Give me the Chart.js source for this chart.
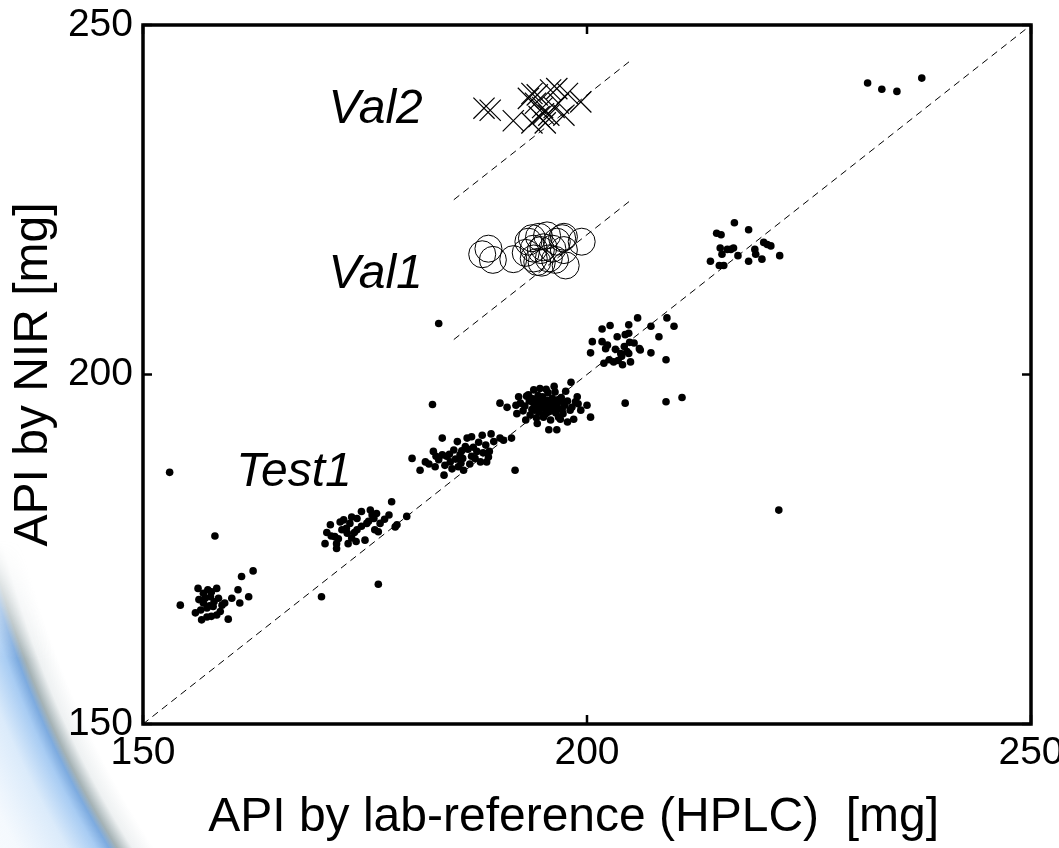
<!DOCTYPE html>
<html lang="en">
<head>
  <meta charset="UTF-8" />
  <title>API by NIR vs HPLC</title>
  <script src="https://cdn.jsdelivr.net/npm/chart.js"></script>
  <style>
    body { margin: 0; background: #fff; width: 1059px; height: 848px; overflow: hidden; position: relative; }
    #swoosh {
      position: absolute; left: 0; top: 540px; width: 230px; height: 308px;
      background: radial-gradient(circle at 1000px -240px,
        rgba(255,255,255,0) 0px,
        rgba(255,255,255,0) 1008px,
        rgba(170,185,190,0.2) 1026px,
        rgba(90,115,120,0.55) 1039px,
        rgba(70,135,210,0.7) 1046px,
        rgba(110,170,235,0.6) 1057px,
        rgba(175,210,245,0.45) 1082px,
        rgba(220,235,250,0.3) 1125px,
        rgba(255,255,255,0) 1220px);
      -webkit-mask-image: linear-gradient(to bottom, transparent 0px, #000 120px);
    }
    canvas { position: absolute; left: 0; top: 0; }
  </style>
</head>
<body>
  <div id="swoosh"></div>
  <canvas id="chart" width="1059" height="848"></canvas>

  <script>
    // Test1 calibration/test set (black dots)
    const testX = [
      154.2, 156.2, 157.3, 158.3, 156.8, 155.9, 156.6, 157.7, 158.7, 159.6, 160.0, 160.7, 161.1, 162.4, 160.9, 161.9,
      157.6, 157.9, 157.2, 158.9, 159.2, 158.3, 156.8, 157.7, 156.3, 157.0, 157.5, 158.0, 156.5, 158.5, 157.2,
      158.1, 153.0,
      170.5, 170.7, 171.1, 171.8, 171.8, 171.6, 172.4, 172.6, 173.1, 173.5, 173.3, 174.1, 174.6, 175.2, 175.6, 176.0,
      176.3, 176.7, 177.7, 176.5, 175.0, 174.1, 173.0, 178.0, 178.6, 178.4, 179.7, 172.0, 172.9, 173.8, 174.6, 175.4,
      176.1, 177.2, 174.0, 172.2, 173.5, 175.8, 171.2,
      170.1, 176.5,
      180.3, 181.2, 181.8, 182.7, 182.9, 183.7, 183.7, 183.9, 184.6, 185.0, 185.4, 185.5, 186.1, 186.3, 186.5, 187.0,
      187.0, 187.6, 188.2, 188.6, 188.0, 188.7, 189.5, 190.2, 191.5, 185.7, 184.2, 183.3, 184.0, 185.2, 186.0, 186.8,
      187.4, 188.3, 189.0, 184.8, 186.6, 187.8, 185.8, 183.0, 182.2, 189.2, 190.6, 184.5, 185.9, 187.2, 188.9,
      182.6, 191.9, 183.3,
      190.2, 191.0, 192.3, 192.5, 192.1, 193.1, 193.4, 194.0, 194.4, 195.1, 195.7, 196.3, 196.6, 196.8, 197.6, 197.8,
      198.1, 198.7, 199.3, 200.0, 200.4, 198.9, 193.0, 193.5, 193.8, 194.0, 194.2, 194.5, 194.6, 194.8, 195.0, 195.2,
      195.3, 195.5, 195.6, 195.8, 196.0, 196.1, 196.3, 196.5, 196.7, 196.9, 197.1, 197.3, 197.5, 193.6, 194.3, 195.9,
      197.0, 193.2, 194.7, 195.4, 196.4, 197.8, 198.3, 192.8, 193.9, 195.0, 196.2, 197.2, 198.5, 199.0, 192.0, 194.1,
      195.7, 196.8, 194.4, 195.3, 196.0, 195.6, 194.9, 195.1, 195.4, 195.9, 196.6, 194.2, 193.7, 197.4,
      200.6, 200.4, 201.7, 201.7, 202.1, 202.6, 202.3, 201.9, 202.5, 203.0, 203.4, 203.8, 204.0, 204.2, 204.3, 204.7,
      204.7, 204.9, 204.7, 205.3, 205.7, 205.9, 206.0, 207.2, 207.2, 208.1, 208.9, 209.0, 209.8, 203.2, 203.9, 204.5,
      203.5, 204.8, 198.2,
      204.3, 208.9, 210.7,
      213.9, 214.6, 215.1, 215.0, 215.2, 214.9, 215.4, 215.8, 216.5, 216.6, 217.0, 218.2, 218.2, 218.9, 219.0, 219.7,
      219.9, 220.3, 220.7, 221.7, 216.2,
      231.6, 233.2, 234.9, 237.7,
      221.6
    ];
    const testY = [
      167.0, 169.4, 169.2, 169.4, 167.3, 165.9, 164.9, 165.4, 166.1, 165.0, 168.0, 169.2, 171.1, 171.9, 167.3, 168.2,
      168.2, 166.8, 166.6, 167.0, 167.3, 165.6, 168.7, 168.9, 167.8, 168.0, 166.9, 167.5, 166.3, 168.0, 165.3,
      176.9, 186.0,
      175.8, 177.4, 178.5, 175.8, 175.1, 176.8, 177.8, 179.2, 175.8, 176.6, 178.7, 179.4, 180.4, 178.7, 180.6, 179.4,
      180.1, 178.7, 179.9, 177.5, 176.3, 177.8, 177.3, 181.8, 178.5, 178.2, 179.7, 176.5, 178.0, 177.4, 178.3, 179.0,
      177.8, 179.3, 176.1, 178.9, 179.6, 179.9, 176.9,
      168.2, 170.0,
      188.0, 186.3, 187.5, 189.0, 186.8, 190.9, 188.5, 185.6, 187.5, 189.2, 190.4, 186.8, 186.3, 189.7, 190.9, 191.1,
      188.3, 189.0, 191.3, 189.9, 187.5, 187.5, 190.4, 190.9, 190.9, 188.5, 188.3, 187.8, 187.0, 187.9, 188.0, 187.2,
      188.0, 188.8, 189.0, 186.5, 189.3, 190.3, 187.3, 188.3, 187.2, 191.5, 190.6, 188.6, 189.1, 189.6, 188.2,
      195.7, 186.3, 207.3,
      195.9, 195.3, 196.8, 195.9, 194.4, 193.5, 197.1, 197.8, 193.0, 193.9, 192.1, 198.3, 192.1, 193.9, 197.6, 193.2,
      194.9, 196.1, 194.9, 195.6, 193.9, 196.8, 195.5, 196.2, 195.0, 196.5, 195.4, 197.0, 194.6, 195.9, 196.8, 195.2,
      194.3, 196.3, 197.4, 195.6, 194.8, 196.6, 195.3, 194.5, 196.0, 195.1, 196.7, 194.4, 195.6, 194.2, 193.8, 193.5,
      193.6, 196.9, 198.0, 197.9, 197.5, 196.2, 195.3, 194.8, 196.0, 195.6, 195.9, 195.0, 193.6, 195.8, 195.6, 194.9,
      194.9, 196.4, 196.1, 196.0, 195.7, 194.6, 195.2, 196.3, 194.7, 195.8, 195.4, 195.7, 196.6, 196.0,
      204.7, 203.1, 206.5, 204.7, 203.7, 207.0, 204.2, 201.6, 202.1, 201.8, 205.4, 203.0, 201.4, 204.0, 205.7, 205.9,
      207.1, 201.8, 203.0, 204.5, 208.1, 203.7, 203.5, 206.9, 203.1, 205.4, 202.1, 208.1, 206.9, 203.6, 202.6, 203.3,
      202.0, 204.6, 198.9,
      195.9, 196.1, 196.7,
      216.2, 220.2, 220.0, 218.1, 217.2, 215.6, 215.6, 217.9, 218.1, 221.7, 217.0, 220.7, 216.2, 217.9, 217.2, 216.5,
      218.9, 218.6, 218.4, 217.0, 217.9,
      241.7, 240.8, 240.5, 242.4,
      180.6
    ];

    // Val1 validation set (open circles)
    const val1X = [188.2, 188.9, 189.4, 191.7, 193.4, 193.8, 194.0, 194.6, 194.8, 195.1, 195.5, 195.7, 194.4, 196.1, 196.4, 196.6,
                   197.2, 197.4, 197.6, 194.9, 193.1, 194.0, 199.4, 197.4];
    const val1Y = [217.2, 218.0, 216.4, 216.5, 219.0, 219.5, 216.6, 219.7, 217.8, 218.2, 219.9, 216.6, 216.1, 218.0, 216.4, 219.0,
                   219.5, 217.8, 215.6, 216.0, 217.4, 218.0, 219.0, 219.7];

    // Val2 validation set (crosses)
    const val2X = [188.4, 189.1, 191.7, 193.4, 193.8, 194.2, 194.4, 194.6, 195.1, 195.7, 195.9, 196.6, 196.8, 197.4, 197.8, 199.3,
                   195.3, 193.8, 196.3, 195.0];
    const val2Y = [238.1, 237.8, 236.3, 239.5, 240.2, 238.8, 240.0, 236.9, 237.3, 237.1, 240.7, 240.9, 238.8, 237.1, 240.2, 239.0,
                   236.0, 236.0, 238.2, 238.2];

    // dashed reference lines (y = x, y = x + 20, y = x + 40)
    const diagX = [150, 250];
    const diagY = [150, 250];
    const val1LineX = [185, 205];
    const val1LineY = [205, 225];
    const val2LineX = [185, 205];
    const val2LineY = [225, 245];

    const tickValues = [150, 200, 250];

    const labelText = ['Val2', 'Val1', 'Test1'];
    const labelX = [176.2, 176.2, 167.0];
    const labelY = [237.9, 214.3, 186.0];

    const pts = (xs, ys) => xs.map((x, i) => ({ x: x, y: ys[i] }));
    const FONT = "'Liberation Sans', Arial, sans-serif";

    const dashed = (xs, ys) => ({
      data: pts(xs, ys),
      showLine: true,
      borderColor: '#000',
      borderWidth: 1,
      borderDash: [7, 5],
      pointRadius: 0,
      fill: false
    });

    // frame, inward tick marks and the set labels
    const framePlugin = {
      id: 'frame',
      afterDraw(chart) {
        const c = chart.ctx;
        const a = chart.chartArea;
        const sx = chart.scales.x, sy = chart.scales.y;
        c.save();
        c.strokeStyle = '#000';
        c.lineWidth = 2.5;
        tickValues.forEach(v => {
          const px = sx.getPixelForValue(v);
          const py = sy.getPixelForValue(v);
          c.beginPath();
          c.moveTo(px, a.bottom); c.lineTo(px, a.bottom - 9);
          c.moveTo(px, a.top); c.lineTo(px, a.top + 9);
          c.moveTo(a.left, py); c.lineTo(a.left + 9, py);
          c.moveTo(a.right, py); c.lineTo(a.right - 9, py);
          c.stroke();
        });
        c.lineWidth = 3.5;
        c.strokeRect(a.left, a.top, a.right - a.left, a.bottom - a.top);

        c.fillStyle = '#000';
        c.font = 'italic 48px ' + FONT;
        c.textAlign = 'center';
        c.textBaseline = 'middle';
        labelText.forEach((t, i) => {
          c.fillText(t, sx.getPixelForValue(labelX[i]), sy.getPixelForValue(labelY[i]));
        });
        c.restore();
      }
    };

    new Chart(document.getElementById('chart').getContext('2d'), {
      type: 'scatter',
      data: {
        datasets: [
          {
            data: pts(testX, testY),
            backgroundColor: '#000',
            borderWidth: 0,
            pointRadius: 3.8
          },
          {
            data: pts(val1X, val1Y),
            pointStyle: 'circle',
            backgroundColor: 'rgba(0,0,0,0)',
            borderColor: '#000',
            borderWidth: 1,
            pointRadius: 13.5
          },
          {
            data: pts(val2X, val2Y),
            pointStyle: 'crossRot',
            borderColor: '#000',
            borderWidth: 1.2,
            pointRadius: 15
          },
          dashed(diagX, diagY),
          dashed(val1LineX, val1LineY),
          dashed(val2LineX, val2LineY)
        ]
      },
      options: {
        responsive: false,
        animation: false,
        layout: { padding: { top: 25, right: 28, left: 0, bottom: 0 } },
        plugins: { legend: { display: false }, tooltip: { enabled: false } },
        scales: {
          x: {
            type: 'linear',
            min: 150, max: 250,
            afterBuildTicks: s => { s.ticks = tickValues.map(v => ({ value: v })); },
            ticks: { color: '#000', font: { family: FONT, size: 39 }, padding: 6, maxRotation: 0, autoSkip: false },
            grid: { display: false, drawTicks: false },
            border: { display: false },
            title: {
              display: true,
              text: 'API by lab-reference (HPLC)  [mg]  ',
              color: '#000',
              font: { family: FONT, size: 48 },
              padding: { top: 0, bottom: 1 }
            },
            afterFit: s => { s.height = 124; s.paddingLeft = 0; s.paddingRight = 0; }
          },
          y: {
            type: 'linear',
            min: 150, max: 250,
            afterBuildTicks: s => { s.ticks = tickValues.map(v => ({ value: v })); },
            ticks: { color: '#000', font: { family: FONT, size: 39 }, padding: 10, autoSkip: false },
            grid: { display: false, drawTicks: false },
            border: { display: false },
            title: {
              display: true,
              text: 'API by NIR [mg]',
              color: '#000',
              font: { family: FONT, size: 48 },
              padding: { top: 5, bottom: 0 }
            },
            afterFit: s => { s.width = 143; s.paddingTop = 0; s.paddingBottom = 0; }
          }
        }
      },
      plugins: [framePlugin]
    });
  </script>
</body>
</html>
